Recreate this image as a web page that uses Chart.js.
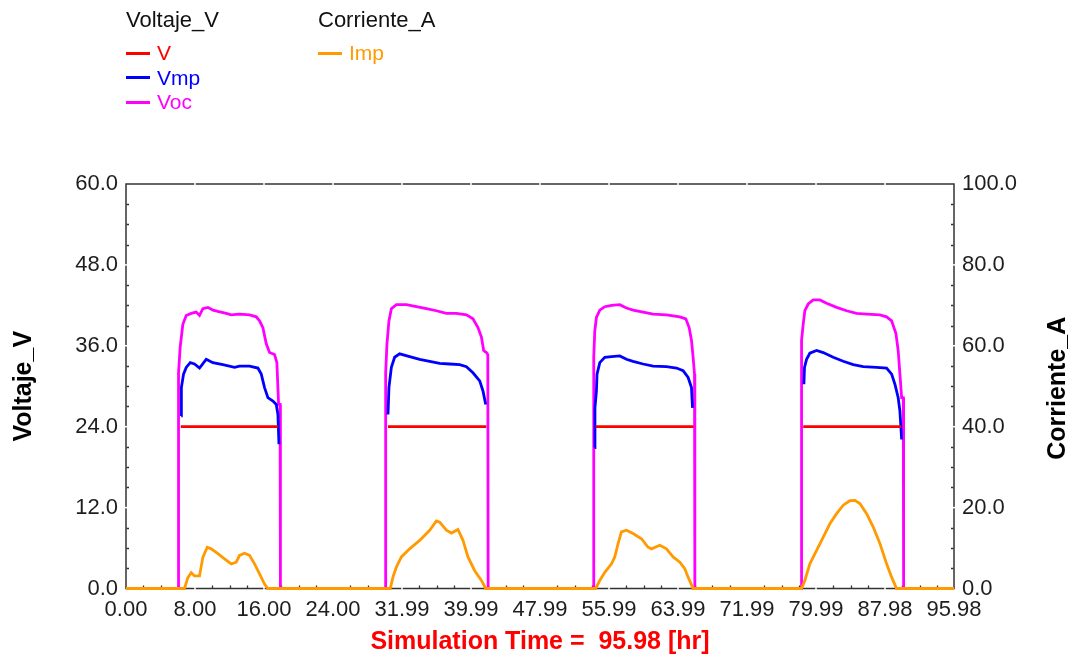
<!DOCTYPE html>
<html>
<head>
<meta charset="utf-8">
<script src="https://cdn.jsdelivr.net/npm/chart.js@4/dist/chart.umd.min.js"></script>
<style>
  html, body { margin: 0; padding: 0; background: #ffffff; }
  #wrap { position: relative; width: 1076px; height: 657px; overflow: hidden; }
  #chart { position: absolute; left: 0; top: 0; }
  .lg-group { position: absolute; top: 7px; font-family: "Liberation Sans", Arial, sans-serif; }
  .lg-title { font-size: 22px; line-height: 26px; height: 26px; color: #111111; margin-bottom: 8px; white-space: nowrap; }
  .lg-item { display: flex; align-items: center; height: 24.6px; font-size: 21px; white-space: nowrap; }
  .lg-swatch { width: 24px; height: 3px; margin-right: 7px; }
</style>
</head>
<body>
<div id="wrap">
  <canvas id="chart" width="1076" height="657"></canvas>
  <div id="legend"></div>
</div>
<script>
// ---- Time axis (hours) ----
const timeMax = 95.98;
const timeTickLabels = ['0.00', '8.00', '16.00', '24.00', '31.99', '39.99', '47.99',
                        '55.99', '63.99', '71.99', '79.99', '87.98', '95.98'];

// ---- Battery voltage V (constant while the array is on) ----
const vHours = [6.35, 17.60, null, 30.37, 41.76, null, 54.45, 65.80, null, 78.50, 89.85];
const vVolts = [24.0, 24.0, null, 24.0, 24.0, null, 24.0, 24.0, null, 24.0, 24.0];

// ---- Max-power-point voltage Vmp ----
const vmpHours = [
  6.40, 6.42, 6.67, 6.98, 7.45, 7.94, 8.52, 9.30, 10.07, 11.23, 12.58, 13.16, 14.32, 15.29, 15.68, 16.06, 16.45, 17.03, 17.42, 17.61, 17.73, null,
  30.37, 30.48, 30.76, 31.14, 31.72, 32.88, 34.04, 35.20, 36.36, 37.52, 38.68, 39.46, 40.22, 41.00, 41.38, 41.70, null,
  54.34, 54.36, 54.53, 54.60, 54.92, 55.50, 56.28, 57.24, 58.01, 58.78, 59.94, 61.10, 62.65, 63.81, 64.58, 65.16, 65.55, 65.67, null,
  78.58, 78.65, 78.89, 79.27, 80.05, 80.82, 81.98, 83.14, 84.30, 85.46, 87.01, 88.17, 88.75, 89.13, 89.51, 89.71, 89.91
];
const vmpVolts = [
  25.6, 29.8, 31.8, 32.8, 33.5, 33.3, 32.7, 34.0, 33.5, 33.2, 32.8, 33.0, 33.0, 32.7, 31.8, 29.8, 28.3, 27.8, 27.3, 25.8, 21.4, null,
  25.8, 29.8, 32.8, 34.3, 34.8, 34.4, 34.0, 33.7, 33.4, 33.3, 33.2, 32.9, 32.0, 30.8, 29.3, 27.3, null,
  20.9, 26.8, 29.3, 31.8, 33.5, 34.3, 34.4, 34.5, 34.0, 33.7, 33.3, 33.0, 32.9, 32.7, 32.3, 31.3, 29.8, 26.8, null,
  30.3, 32.8, 34.0, 34.9, 35.3, 35.0, 34.3, 33.7, 33.2, 32.9, 32.8, 32.7, 31.8, 30.3, 28.3, 26.3, 22.1
];

// ---- Open-circuit voltage Voc ----
const vocHours = [
  0.00,
  6.05, 6.09, 6.28, 6.59, 6.98, 7.56, 8.14, 8.52, 8.91, 9.49, 10.07, 10.65, 11.62, 12.20, 13.16, 14.32, 15.10, 15.48, 15.87, 16.26, 16.64, 17.22, 17.49, 17.69, 17.86, 17.90,
  30.06, 30.10, 30.25, 30.48, 30.76, 31.34, 32.50, 33.66, 34.82, 35.98, 37.14, 38.30, 39.46, 40.22, 40.80, 41.20, 41.46, 41.78, 41.94, 41.98,
  54.18, 54.22, 54.34, 54.53, 54.92, 55.50, 56.28, 57.24, 58.01, 58.78, 59.94, 61.10, 62.65, 64.20, 64.89, 65.28, 65.55, 65.74, 65.90, 65.94,
  78.27, 78.31, 78.50, 78.69, 79.08, 79.66, 80.43, 81.21, 82.37, 83.53, 84.69, 85.85, 87.39, 88.17, 88.75, 89.25, 89.51, 89.71, 89.91, 90.10, 90.14,
  95.98
];
const vocVolts = [
  0.0,
  0.0, 32.0, 35.8, 39.2, 40.5, 40.8, 41.0, 40.5, 41.5, 41.7, 41.3, 41.1, 40.8, 40.6, 40.7, 40.6, 40.3, 39.7, 38.7, 36.3, 35.0, 34.7, 33.5, 27.3, 27.3, 0.0,
  0.0, 32.0, 36.3, 39.7, 41.5, 42.1, 42.1, 41.8, 41.5, 41.2, 40.8, 40.8, 40.6, 40.0, 38.7, 37.3, 35.3, 35.0, 34.7, 0.0,
  0.0, 34.3, 38.2, 40.2, 41.3, 41.8, 42.0, 42.1, 41.6, 41.3, 41.0, 40.7, 40.6, 40.3, 40.0, 38.7, 36.8, 34.3, 31.8, 0.0,
  0.0, 36.8, 39.2, 41.2, 42.2, 42.8, 42.8, 42.3, 41.7, 41.2, 40.8, 40.7, 40.6, 40.3, 39.7, 37.8, 35.3, 31.8, 28.3, 28.3, 0.0,
  0.0
];

// ---- Max-power-point current Imp ----
const impHours = [
  0.00,
  6.78, 7.17, 7.56, 7.94, 8.52, 8.91, 9.41, 9.88, 10.65, 11.42, 12.20, 12.78, 13.16, 13.74, 14.32, 14.90, 15.48, 16.06, 16.45,
  30.64, 30.94, 31.34, 31.92, 32.88, 34.04, 35.20, 35.98, 36.36, 37.14, 37.72, 38.48, 39.06, 39.64, 40.42, 41.20, 41.70,
  54.45, 54.92, 55.50, 56.28, 56.66, 57.04, 57.43, 58.01, 58.78, 59.75, 60.52, 60.91, 61.88, 62.65, 63.42, 64.20, 64.77, 65.16, 65.74,
  78.31, 78.69, 79.27, 80.05, 80.82, 81.59, 82.37, 83.14, 83.91, 84.49, 85.07, 85.85, 86.62, 87.39, 88.17, 88.75, 89.32,
  95.98
];
const impAmps = [
  0.0,
  0.0, 2.7, 3.9, 3.1, 3.1, 7.7, 10.2, 9.8, 8.6, 7.3, 6.1, 6.5, 8.2, 8.7, 8.2, 6.1, 3.6, 1.1, 0.0,
  0.0, 2.8, 5.3, 7.8, 9.8, 11.9, 14.4, 16.7, 16.4, 14.4, 13.7, 14.6, 11.9, 7.8, 4.4, 2.0, 0.0,
  0.0, 2.0, 4.0, 6.1, 7.8, 11.1, 14.0, 14.4, 13.6, 12.3, 10.2, 9.8, 10.7, 9.8, 7.8, 6.5, 4.9, 2.8, 0.0,
  0.0, 2.0, 6.1, 9.4, 12.7, 16.0, 18.5, 20.6, 21.7, 21.8, 21.0, 18.5, 15.2, 11.1, 6.1, 2.8, 0.0,
  0.0
];

// ---- Styling ----
const FONT = '"Liberation Sans", Arial, sans-serif';
const TICK_COLOR = '#1e1e1e';
const FRAME_COLOR = '#333333';

function points(xs, ys) {
  return xs.map((x, i) => (x === null ? { x: null, y: null } : { x: x, y: ys[i] }));
}

// Evenly spaced time ticks across the run
const timeTicks = timeTickLabels.map((_, i) => timeMax * i / (timeTickLabels.length - 1));

// Plot frame: box, inward minor ticks and small breaks at the major ticks
const plotFrame = {
  id: 'plotFrame',
  beforeDatasetsDraw(chart) {
    const { ctx, chartArea: a, scales } = chart;
    ctx.save();
    ctx.strokeStyle = FRAME_COLOR;
    ctx.lineWidth = 1.5;
    ctx.strokeRect(a.left, a.top, a.right - a.left, a.bottom - a.top);

    ctx.lineWidth = 1.3;
    ctx.beginPath();
    // time axis minors (4 divisions per major)
    for (let i = 0; i < timeTicks.length - 1; i++) {
      const step = (timeTicks[i + 1] - timeTicks[i]) / 4;
      for (let k = 1; k < 4; k++) {
        const px = Math.round(scales.x.getPixelForValue(timeTicks[i] + k * step)) + 0.5;
        ctx.moveTo(px, a.bottom - 0.5);
        ctx.lineTo(px, a.bottom - 3);
      }
    }
    // left axis minors every 3 V
    for (let v = 3; v < 60; v += 3) {
      if (v % 12 === 0) continue;
      const py = Math.round(scales.yV.getPixelForValue(v)) + 0.5;
      ctx.moveTo(a.left + 0.5, py);
      ctx.lineTo(a.left + 3, py);
    }
    // right axis minors every 5 A
    for (let v = 5; v < 100; v += 5) {
      if (v % 20 === 0) continue;
      const py = Math.round(scales.yA.getPixelForValue(v)) + 0.5;
      ctx.moveTo(a.right - 0.5, py);
      ctx.lineTo(a.right - 3, py);
    }
    ctx.stroke();

    // breaks in the frame line at each major tick
    ctx.fillStyle = '#ffffff';
    for (let i = 1; i < timeTicks.length - 1; i++) {
      const px = scales.x.getPixelForValue(timeTicks[i]);
      ctx.fillRect(px - 0.75, a.top - 2, 1.5, 4);
      ctx.fillRect(px - 0.75, a.bottom - 2, 1.5, 4);
    }
    for (let v = 12; v < 60; v += 12) {
      const py = scales.yV.getPixelForValue(v);
      ctx.fillRect(a.left - 2, py - 0.75, 4, 1.5);
    }
    for (let v = 20; v < 100; v += 20) {
      const py = scales.yA.getPixelForValue(v);
      ctx.fillRect(a.right - 2, py - 0.75, 4, 1.5);
    }
    ctx.restore();
  },
  // The right-axis title reads bottom-to-top, like the left one
  afterDraw(chart) {
    const s = chart.scales.yA;
    const t = s.options.title;
    const { ctx, chartArea: a } = chart;
    ctx.save();
    ctx.translate(s.right - 18, (a.top + a.bottom) / 2 + 2);
    ctx.rotate(-Math.PI / 2);
    ctx.fillStyle = t.color;
    ctx.font = 'bold 25px ' + FONT;
    ctx.textAlign = 'center';
    ctx.textBaseline = 'middle';
    ctx.fillText(t.text, 0, 0);
    ctx.restore();
  }
};

const ctx = document.getElementById('chart').getContext('2d');
const chart = new Chart(ctx, {
  type: 'line',
  data: {
    datasets: [
      { label: 'V',   data: points(vHours, vVolts),     yAxisID: 'yV', borderColor: '#ff0000', order: 1 },
      { label: 'Vmp', data: points(vmpHours, vmpVolts), yAxisID: 'yV', borderColor: '#0000ff', order: 2 },
      { label: 'Voc', data: points(vocHours, vocVolts), yAxisID: 'yV', borderColor: '#ff00ff', order: 3 },
      { label: 'Imp', data: points(impHours, impAmps),  yAxisID: 'yA', borderColor: '#ff9a00', order: 0 }
    ]
  },
  options: {
    responsive: false,
    animation: false,
    events: [],
    layout: { padding: { top: 184, left: 0, right: 0, bottom: 0 } },
    elements: {
      point: { radius: 0 },
      line: { tension: 0, borderWidth: 2.8, fill: false }
    },
    datasets: { line: { clip: 6, spanGaps: false } },
    plugins: { legend: { display: false }, tooltip: { enabled: false } },
    scales: {
      x: {
        type: 'linear', min: 0, max: timeMax,
        grid: { display: false, drawTicks: false },
        border: { display: false },
        afterBuildTicks: (s) => { s.ticks = timeTicks.map(v => ({ value: v })); },
        afterFit: (s) => { s.height = 68.5; },
        ticks: {
          autoSkip: false, maxRotation: 0, padding: 8,
          color: TICK_COLOR, font: { family: FONT, size: 22 },
          callback: (v, i) => timeTickLabels[i]
        },
        title: {
          display: true, text: 'Simulation Time =  95.98 [hr]', color: '#ff0000',
          font: { family: FONT, size: 25, weight: 'bold' }, padding: { top: 0, bottom: 0 }
        }
      },
      yV: {
        type: 'linear', position: 'left', min: 0, max: 60,
        grid: { display: false, drawTicks: false },
        border: { display: false },
        afterFit: (s) => { s.width = 126; },
        ticks: {
          stepSize: 12, padding: 8, color: TICK_COLOR, font: { family: FONT, size: 22 },
          callback: (v) => v.toFixed(1)
        },
        title: {
          display: true, text: 'Voltaje_V', color: '#000000',
          font: { family: FONT, size: 25, weight: 'bold' }, padding: { top: 9, bottom: 0 }
        }
      },
      yA: {
        type: 'linear', position: 'right', min: 0, max: 100,
        grid: { display: false, drawTicks: false },
        border: { display: false },
        afterFit: (s) => { s.width = 122; },
        ticks: {
          stepSize: 20, padding: 8, color: TICK_COLOR, font: { family: FONT, size: 22 },
          callback: (v) => v.toFixed(1)
        },
        title: {
          display: false, text: 'Corriente_A', color: '#000000',
          font: { family: FONT, size: 25, weight: 'bold' }
        }
      }
    }
  },
  plugins: [plotFrame]
});

// Grouped legend: one column per axis, headed by the axis title
(function buildLegend() {
  const host = document.getElementById('legend');
  const groupLeft = { yV: 126, yA: 318 };
  ['yV', 'yA'].forEach((axisId) => {
    const g = document.createElement('div');
    g.className = 'lg-group';
    g.style.left = groupLeft[axisId] + 'px';
    const t = document.createElement('div');
    t.className = 'lg-title';
    t.textContent = chart.options.scales[axisId].title.text;
    g.appendChild(t);
    chart.data.datasets.filter(d => d.yAxisID === axisId).forEach((d) => {
      const row = document.createElement('div');
      row.className = 'lg-item';
      const sw = document.createElement('span');
      sw.className = 'lg-swatch';
      sw.style.background = d.borderColor;
      const lb = document.createElement('span');
      lb.textContent = d.label;
      lb.style.color = d.borderColor;
      row.appendChild(sw);
      row.appendChild(lb);
      g.appendChild(row);
    });
    host.appendChild(g);
  });
})();
</script>
</body>
</html>
